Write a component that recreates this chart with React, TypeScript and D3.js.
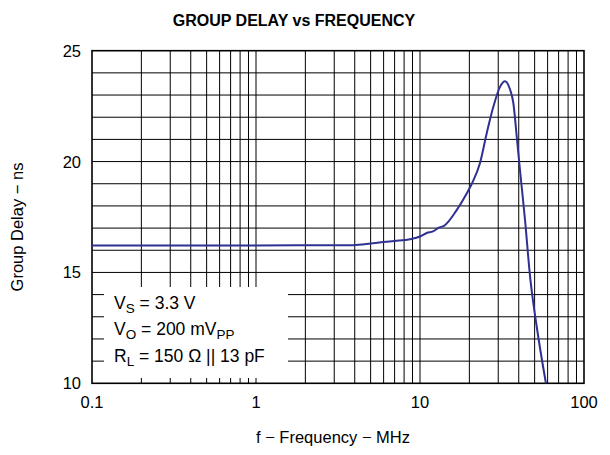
import React from "react";
import * as d3 from "d3";

const freqMHz = [0.1, 1, 3.9, 5, 6, 7, 8.7, 10, 11, 12, 13, 14, 16.7, 19.3, 20.7, 23.2, 25.5, 28, 30.8, 33, 35.4, 37.1, 38.9, 40.7, 43.7, 46.9, 51.5, 58.6];
const delayNs = [16.22, 16.22, 16.23, 16.3, 16.37, 16.42, 16.5, 16.62, 16.78, 16.85, 17.02, 17.1, 17.8, 18.57, 19.0, 19.92, 21.27, 22.47, 23.38, 23.62, 23.25, 22.63, 21.12, 19.62, 17.36, 14.81, 12.55, 10.0];
const xTickValues = [0.1, 1, 10, 100];
const xTickLabels = ["0.1", "1", "10", "100"];
const yTickValues = [10, 15, 20, 25];

const W = 610, H = 455;
const L = 92, R = 584, T = 50.7, B = 383.3;

export default function App() {
  const x = d3.scaleLog().domain([0.1, 100]).range([L, R]);
  const y = d3.scaleLinear().domain([10, 25]).range([B, T]);
  const minor: number[] = [];
  [0.1, 1, 10].forEach((d) => { for (let k = 1; k <= 9; k++) minor.push(d * k); });
  const hLines = d3.range(11, 25);
  const pts = freqMHz.map((f, i) => [f, delayNs[i]] as [number, number]);
  const line = d3.line<[number, number]>().x((d) => x(d[0])).y((d) => y(d[1])).curve(d3.curveMonotoneX);
  const font = "'Liberation Sans', Arial, sans-serif";
  const box = { x0: 104, x1: 288, y0: 287, y1: 378 };
  return (
    <svg width={W} height={H} style={{ position: "absolute", left: 0, top: 0, background: "#fff" }} fontFamily={font}>
      <text x={294} y={26} textAnchor="middle" fontWeight="bold" fontSize={16}>GROUP DELAY vs FREQUENCY</text>
      <g stroke="#000" strokeWidth={1}>
        {minor.slice(1).map((v, i) => (
          <line key={"v" + i} x1={x(v)} x2={x(v)} y1={T} y2={B} />
        ))}
        {hLines.map((v) => (
          <line key={"h" + v} x1={L} x2={R} y1={y(v)} y2={y(v)} />
        ))}
      </g>
      <rect x={box.x0} y={box.y0} width={box.x1 - box.x0} height={box.y1 - box.y0} fill="#fff" />
      <rect x={L} y={T} width={R - L} height={B - T} fill="none" stroke="#000" strokeWidth={1.6} />
      <path d={line(pts) || ""} fill="none" stroke="#2e3192" strokeWidth={2} />
      <g fontSize={17.5}>
        <text x={114} y={309}>V<tspan fontSize={13.5} dy={4}>S</tspan><tspan dy={-4}> = 3.3 V</tspan></text>
        <text x={114} y={335}>V<tspan fontSize={13.5} dy={4}>O</tspan><tspan dy={-4}> = 200 mV</tspan><tspan fontSize={13.5} dy={4}>PP</tspan></text>
        <text x={114} y={362}>R<tspan fontSize={13.5} dy={4}>L</tspan><tspan dy={-4}> = 150 Ω || 13 pF</tspan></text>
      </g>
      <g fontSize={16.5}>
        {xTickValues.map((v, i) => (
          <text key={"xt" + i} x={x(v)} y={408} textAnchor="middle">{xTickLabels[i]}</text>
        ))}
        {yTickValues.map((v) => (
          <text key={"yt" + v} x={81} y={y(v) + 6} textAnchor="end">{v}</text>
        ))}
      </g>
      <text x={333} y={443} textAnchor="middle" fontSize={16.5}>f − Frequency − MHz</text>
      <text transform={`translate(23,227) rotate(-90)`} textAnchor="middle" fontSize={16.5}>Group Delay − ns</text>
    </svg>
  );
}
